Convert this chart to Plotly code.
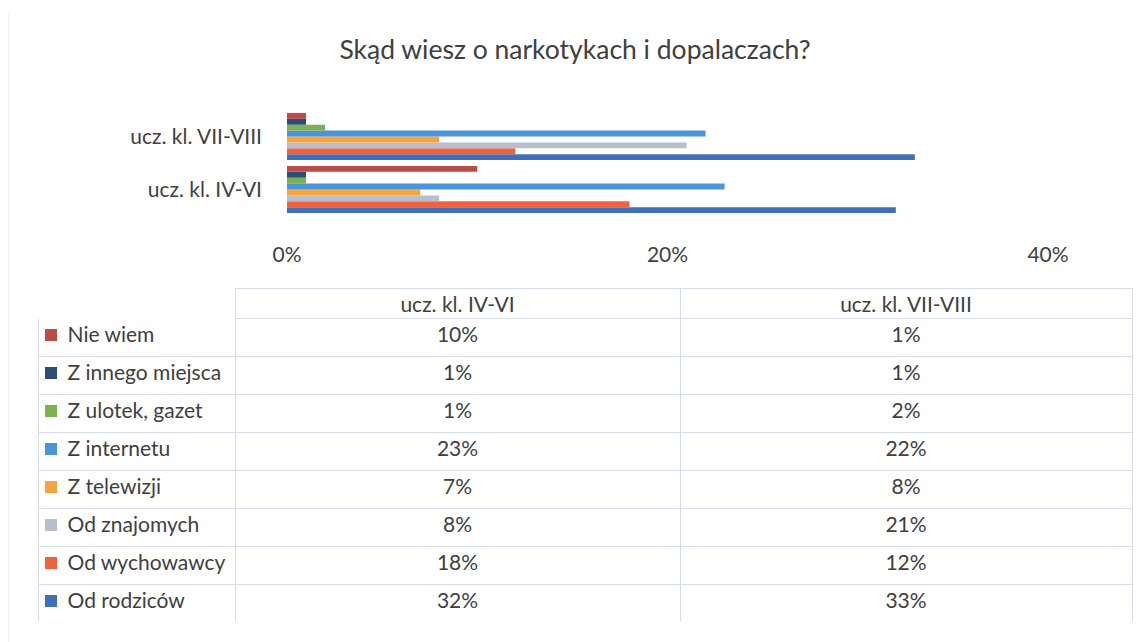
import plotly.graph_objects as go

W, H = 1146, 642

categories = ["ucz. kl. IV-VI", "ucz. kl. VII-VIII"]
series_names = ["Nie wiem", "Z innego miejsca", "Z ulotek, gazet", "Z internetu",
                "Z telewizji", "Od znajomych", "Od wychowawcy", "Od rodziców"]
vals_iv_vi = [10, 1, 1, 23, 7, 8, 18, 32]
vals_vii_viii = [1, 1, 2, 22, 8, 21, 12, 33]
colors = ["#be4b48", "#2c4d78", "#7db04e", "#4a94d8",
          "#f8a43c", "#b8bfcb", "#f0623e", "#3f6fba"]
x_ticks = [0, 0.2, 0.4]
x_tick_labels = ["0%", "20%", "40%"]

TXT = "#404040"
FONT = "Lato, 'Open Sans', sans-serif"
GRID = "#d6dde9"
FS = 21
OFF = 8  # page body margin in the browser

def px_x(p):
    return (p - OFF) / W

def px_y(p):
    return 1 - (p - OFF) / H

fig = go.Figure()

# Bars: last series first so that "Nie wiem" ends up on top of each group
for i in reversed(range(len(series_names))):
    fig.add_trace(go.Bar(
        y=categories,
        x=[vals_iv_vi[i] / 100, vals_vii_viii[i] / 100],
        name=series_names[i],
        orientation="h",
        marker=dict(color=colors[i], line=dict(width=0)),
        showlegend=False,
        xaxis="x", yaxis="y",
    ))

# Data table
NB = "\u00a0"
label_cells = [NB * 4 + n.replace(" ", NB) for n in series_names]
col1 = [f"{v}%" for v in vals_iv_vi]
col2 = [f"{v}%" for v in vals_vii_viii]

TAB_TOP, TAB_BOT = 288, 622
HEAD_H, ROW_H = 30, 38
CLEAR = "rgba(0,0,0,0)"

fig.add_trace(go.Table(
    domain=dict(x=[px_x(38), px_x(1132)], y=[px_y(TAB_BOT), px_y(TAB_TOP)]),
    columnwidth=[197, 445, 452],
    header=dict(
        values=[""] + categories,
        align="center",
        height=HEAD_H,
        fill=dict(color=CLEAR),
        line=dict(color=["white", GRID, GRID], width=1),
        font=dict(family=FONT, size=FS, color=TXT),
    ),
    cells=dict(
        values=[label_cells, col1, col2],
        align=["left", "center", "center"],
        height=ROW_H,
        fill=dict(color=CLEAR),
        line=dict(color=GRID, width=1),
        font=dict(family=FONT, size=FS, color=TXT),
    ),
))

# Legend keys (colored squares) in the table's first column
fig.add_trace(go.Scatter(
    x=[0] * len(series_names),
    y=[i + 0.5 for i in range(len(series_names))],
    mode="markers",
    marker=dict(symbol="square", size=12, color=colors, line=dict(width=0)),
    xaxis="x2", yaxis="y2",
    showlegend=False, hoverinfo="skip",
))

fig.update_layout(
    width=W, height=H,
    margin=dict(l=0, r=0, t=0, b=0, autoexpand=False),
    paper_bgcolor="white",
    plot_bgcolor="rgba(0,0,0,0)",
    barmode="group",
    bargap=0.11,
    bargroupgap=0,
    title=dict(
        text="Skąd wiesz o narkotykach i dopalaczach?",
        x=px_x(575), xanchor="center",
        y=px_y(50), yanchor="middle",
        font=dict(family=FONT, size=26.5, color=TXT),
    ),
    xaxis=dict(
        domain=[px_x(287), px_x(1048)],
        range=[0, 0.4],
        tickvals=x_ticks,
        ticktext=x_tick_labels,
        showgrid=False, zeroline=False, showline=False, ticks="",
        automargin=False,
        ticklabelstandoff=24,
        tickfont=dict(family=FONT, size=FS, color=TXT),
        fixedrange=True,
    ),
    yaxis=dict(
        domain=[px_y(216), px_y(110)],
        showgrid=False, zeroline=False, showline=False, ticks="",
        automargin=False,
        ticklabelstandoff=24,
        tickfont=dict(family=FONT, size=FS, color=TXT),
        fixedrange=True,
    ),
    xaxis2=dict(
        domain=[px_x(38), px_x(64)],
        range=[-1, 1],
        visible=False, fixedrange=True,
    ),
    yaxis2=dict(
        domain=[px_y(TAB_BOT - 2), px_y(TAB_TOP + HEAD_H - 2)],
        range=[len(series_names), 0],
        visible=False, fixedrange=True,
    ),
    shapes=[
        dict(type="line", xref="paper", yref="paper",
             x0=px_x(9), x1=px_x(9), y0=px_y(12), y1=0,
             line=dict(color="#ececf2", width=1)),
    ],
)

fig.write_html("out.html")
